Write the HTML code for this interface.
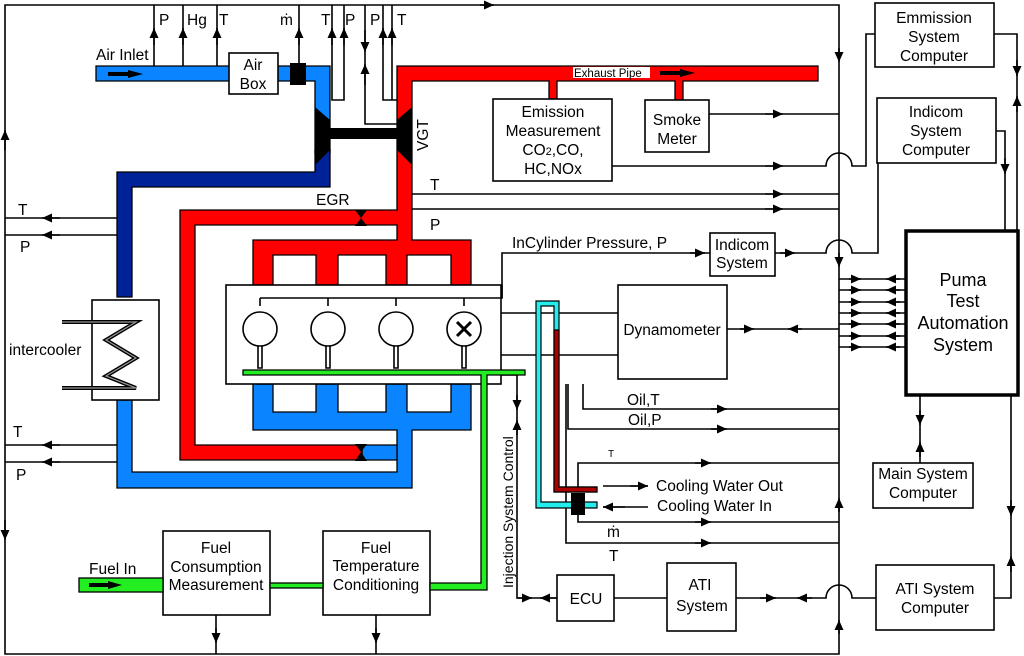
<!DOCTYPE html>
<html><head><meta charset="utf-8"><style>
html,body{margin:0;padding:0;background:#fff}
svg{display:block}
text{font-family:"Liberation Sans",Arial,sans-serif;font-size:15.5px;fill:#000}
.m{text-anchor:middle}
</style></head><body>
<svg width="1024" height="656" viewBox="0 0 1024 656" xmlns="http://www.w3.org/2000/svg">
<defs>
<marker id="a" viewBox="0 0 10 10" refX="10" refY="5" markerWidth="15" markerHeight="10" markerUnits="userSpaceOnUse" orient="auto"><path d="M0,0.5 L10,5 L0,9.5 z" fill="#000"/></marker>
</defs>
<g fill="none" stroke="#000" stroke-width="1.6">
<path d="M5,620 L5,5 L839,5 L839,654 L5,654 L5,600"/>
<path d="M154,66 V5 M183,66 V5 M217,66 V5 M299,63 V5 M332,5 V100 H344 V5 M365,5 V124 H397 M383,5 V100 H397 M392,5 V100"/>
<path d="M117,218 H5 M117,235 H5 M117,445 H5 M117,462 H5"/>
<path d="M412,194 H839 M412,209 H839 M709,114 H839"/>
<path d="M612,166 H826 A13,13 0 0 1 852,166 H866 V34 H875"/>
<path d="M502,298 V253 H710 M775,253 H826 A13,13 0 0 1 852,253 H878 V163"/>
<path d="M994,34 H1017 V230 M996,131 H1005 V230 M1011,395 V598 H994 M920,395 V463"/>
<path d="M839,279 H906 M839,290 H906 M839,302 H906 M839,313 H906 M839,324 H906 M839,336 H906 M839,347 H906 M727,329 H839"/>
<path d="M583,384 V409 H839 M568,384 V429 H839 M578,487 V463 H839 M578,515 V522 H839 M566,384 V543 H839"/>
<path d="M603,486 H648 M648,507 H603"/>
<path d="M501,375 H517 V598 H557 M614,598 H667 M736,598 H826 A13,13 0 0 1 852,598 H876"/>
<path d="M216,615 V654 M376,615 V654"/>
</g>
<g stroke="#000" stroke-width="1.6" marker-end="url(#a)">
<path d="M480,5 H494"/><path d="M839,48 V62"/><path d="M839,253 V267"/><path d="M839,512 V498"/><path d="M839,634 V620"/>
<path d="M154,45 V28"/><path d="M183,45 V28"/><path d="M217,45 V28"/><path d="M299,45 V28"/><path d="M332,45 V28"/><path d="M344,45 V28"/><path d="M383,45 V28"/><path d="M392,45 V28"/>
<path d="M365,30 V52"/><path d="M365,85 V64"/>
<path d="M5,150 V130"/><path d="M5,520 V540"/>
<path d="M60,218 H42"/><path d="M60,235 H42"/><path d="M60,445 H42"/><path d="M60,462 H42"/>
<path d="M765,114 H783"/><path d="M765,166 H783"/><path d="M765,194 H783"/><path d="M765,209 H783"/>
<path d="M690,253 H705"/><path d="M780,253 H795"/>
<path d="M849,279 H861"/><path d="M849,290 H861"/><path d="M849,302 H861"/><path d="M849,313 H861"/><path d="M849,324 H861"/><path d="M849,336 H861"/><path d="M849,347 H861"/>
<path d="M900,279 H886"/><path d="M900,290 H886"/><path d="M900,302 H886"/><path d="M900,313 H886"/><path d="M900,324 H886"/><path d="M900,336 H886"/><path d="M900,347 H886"/>
<path d="M740,329 H754"/><path d="M802,329 H788"/>
<path d="M711,409 H727"/><path d="M711,429 H727"/><path d="M695,463 H711"/><path d="M695,522 H711"/><path d="M695,543 H711"/>
<path d="M630,486 H648"/><path d="M625,507 H603"/>
<path d="M517,395 V410"/><path d="M517,435 V420"/>
<path d="M517,598 H532"/><path d="M557,598 H540"/>
<path d="M760,598 H776"/><path d="M812,598 H797"/>
<path d="M920,410 V425"/><path d="M920,457 V442"/>
<path d="M1017,60 V76"/><path d="M1017,112 V96"/><path d="M1005,158 V174"/>
<path d="M1011,500 V516"/><path d="M1011,572 V556"/>
<path d="M216,628 V643"/><path d="M376,628 V643"/>
</g>
<g stroke="#000" stroke-width="1.3">
<path d="M96,66 H330 V153 H315 V81 H96 Z" fill="#0a84ff"/>
<path d="M315,150 H330 V187 H132 V297 H117 V172 H315 Z" fill="#002299"/>
<path d="M117,400 H132 V472 H397 V430 H253 V384 H273 V412 H316 V384 H338 V412 H386 V384 H407 V412 H451 V384 H471 V430 H412 V488 H117 Z" fill="#0a84ff"/>
<path d="M397,445 H362 V460 H397 Z" fill="#0a84ff"/>
<path d="M180,210 H397 V66 H818 V81 H683 V100 H675 V81 H557 V99 H549 V81 H412 V240 H471 V285 H451 V255 H407 V285 H386 V255 H338 V285 H316 V255 H273 V285 H253 V240 H397 V225 H195 V445 H362 V460 H180 Z" fill="#ff0000"/>
</g>
<polygon points="315,107 330,120 330,150 315,165" fill="#000"/>
<polygon points="412,107 397,120 397,150 412,165" fill="#000"/>
<rect x="330" y="128" width="67" height="11" fill="#000"/>
<rect x="290" y="63" width="16" height="22" fill="#000"/>
<polygon points="355,210 367,210 361,218 367,226 355,226 361,218" fill="#000"/>
<polygon points="355,444 367,444 361,452 367,461 355,461 361,452" fill="#000"/>
<path d="M108,74 H130" stroke="#000" stroke-width="4"/><polygon points="128,70 143,74 128,78" fill="#000"/>
<path d="M660,73 H683" stroke="#000" stroke-width="4"/><polygon points="680,69 695,73 680,77" fill="#000"/>
<rect x="573" y="67" width="77" height="11" fill="#fff"/>
<text x="574" y="77" style="font-size:11.5px">Exhaust Pipe</text>
<g fill="#fff" stroke="#000" stroke-width="1.6">
<rect x="229" y="53" width="49" height="41"/>
<rect x="493" y="99" width="119" height="82"/>
<rect x="645" y="100" width="64" height="52"/>
<rect x="710" y="233" width="65" height="43"/>
<rect x="226" y="285" width="275" height="99"/>
<rect x="618" y="285" width="109" height="94"/>
<rect x="92" y="300" width="67" height="100"/>
<rect x="163" y="531" width="107" height="84"/>
<rect x="323" y="531" width="107" height="84"/>
<rect x="557" y="575" width="57" height="46"/>
<rect x="667" y="563" width="69" height="68"/>
<rect x="875" y="3" width="119" height="64"/>
<rect x="877" y="98" width="119" height="65"/>
<rect x="873" y="463" width="100" height="45"/>
<rect x="876" y="565" width="118" height="65"/>
</g>
<rect x="906" y="231" width="112" height="164" fill="#fff" stroke="#000" stroke-width="3.5"/>
<g fill="none" stroke="#000" stroke-width="1.6">
<path d="M260,298 H502 V285 M260,298 V306 M328,298 V306 M396,298 V306 M464,298 V306"/>
<path d="M501,313 H618 M501,355 H618"/>
<circle cx="260" cy="329" r="17" fill="#fff"/><circle cx="328" cy="329" r="17" fill="#fff"/>
<circle cx="396" cy="329" r="17" fill="#fff"/><circle cx="464" cy="329" r="17" fill="#fff"/>
<path d="M457,322 L471,336 M471,322 L457,336" stroke-width="3"/>
<path d="M258,346 V368 H262 V346 M326,346 V368 H330 V346 M394,346 V368 H398 V346 M462,346 V368 H466 V346"/>
</g>
<g stroke="#000" stroke-width="1.3" fill="#22ee22">
<rect x="79" y="578" width="84" height="14"/>
<rect x="270" y="583" width="53" height="5"/>
<path d="M430,583 H481 V375 H243 V370 H525 V375 H487 V590 H430 Z"/>
</g>
<path d="M89,585 H110" stroke="#000" stroke-width="4"/><polygon points="108,581 122,585 108,589" fill="#000"/>
<path d="M536,301 H559 V487 H597 V492 H554 V306 H541 V502 H597 V508 H536 Z" fill="#22eeee" stroke="#000" stroke-width="1.2"/>
<path d="M554,330 H559 V487 H597 V492 H554 Z" fill="#aa0000" stroke="#000" stroke-width="1.2"/>
<rect x="571" y="493" width="14" height="22" fill="#000"/>
<path d="M62,322 H136 L106,340 L136,358 L106,376 L136,388 H62" fill="none" stroke="#000" stroke-width="4"/>
<path d="M62,322 H136 L106,340 L136,358 L106,376 L136,388 H62" fill="none" stroke="#999" stroke-width="1.2"/>
<text x="96" y="60">Air Inlet</text>
<text class="m" x="253" y="70">Air</text><text class="m" x="253" y="89">Box</text>
<text x="159" y="25">P</text><text x="187" y="25">Hg</text><text x="219" y="25">T</text>
<text x="280" y="25">ṁ</text><text x="321" y="25">T</text><text x="345" y="25">P</text><text x="370" y="25">P</text><text x="397" y="25">T</text>
<text x="428" y="151" transform="rotate(-90 428 151)">VGT</text>
<text x="316" y="205">EGR</text>
<text x="430" y="190">T</text><text x="430" y="230">P</text>
<text x="18" y="215">T</text><text x="20" y="252">P</text>
<text x="13" y="437">T</text><text x="16" y="480">P</text>
<text x="9" y="355">intercooler</text>
<text class="m" x="553" y="117">Emission</text><text class="m" x="553" y="136">Measurement</text>
<text class="m" x="553" y="155">CO<tspan style="font-size:11px">2</tspan>,CO,</text><text class="m" x="553" y="174">HC,NOx</text>
<text class="m" x="677" y="125">Smoke</text><text class="m" x="677" y="144">Meter</text>
<text x="512" y="248">InCylinder  Pressure,  P</text>
<text class="m" x="742" y="250">Indicom</text><text class="m" x="742" y="268">System</text>
<text class="m" x="672" y="335">Dynamometer</text>
<text class="m" x="934" y="23">Emmission</text><text class="m" x="934" y="42">System</text><text class="m" x="934" y="61">Computer</text>
<text class="m" x="936" y="117">Indicom</text><text class="m" x="936" y="136">System</text><text class="m" x="936" y="155">Computer</text>
<text class="m" x="963" y="286" style="font-size:18px">Puma</text><text class="m" x="963" y="307" style="font-size:18px">Test</text>
<text class="m" x="963" y="329" style="font-size:18px">Automation</text><text class="m" x="963" y="351" style="font-size:18px">System</text>
<text class="m" x="923" y="479">Main System</text><text class="m" x="923" y="498">Computer</text>
<text class="m" x="935" y="594">ATI System</text><text class="m" x="935" y="613">Computer</text>
<text class="m" x="700" y="590">ATI</text><text class="m" x="702" y="611">System</text>
<text class="m" x="586" y="604">ECU</text>
<text x="627" y="405">Oil,T</text><text x="628" y="425">Oil,P</text>
<text x="608" y="457" style="font-size:10px">T</text>
<text x="656" y="491">Cooling Water Out</text><text x="657" y="511">Cooling Water In</text>
<text x="607" y="537">ṁ</text><text x="609" y="561">T</text>
<text x="513" y="588" transform="rotate(-90 513 588)" style="font-size:14px">Injection System Control</text>
<text class="m" x="216" y="553">Fuel</text><text class="m" x="216" y="572">Consumption</text><text class="m" x="216" y="590">Measurement</text>
<text class="m" x="376" y="553">Fuel</text><text class="m" x="376" y="571">Temperature</text><text class="m" x="376" y="590">Conditioning</text>
<text x="89" y="574">Fuel In</text>
</svg>
</body></html>
